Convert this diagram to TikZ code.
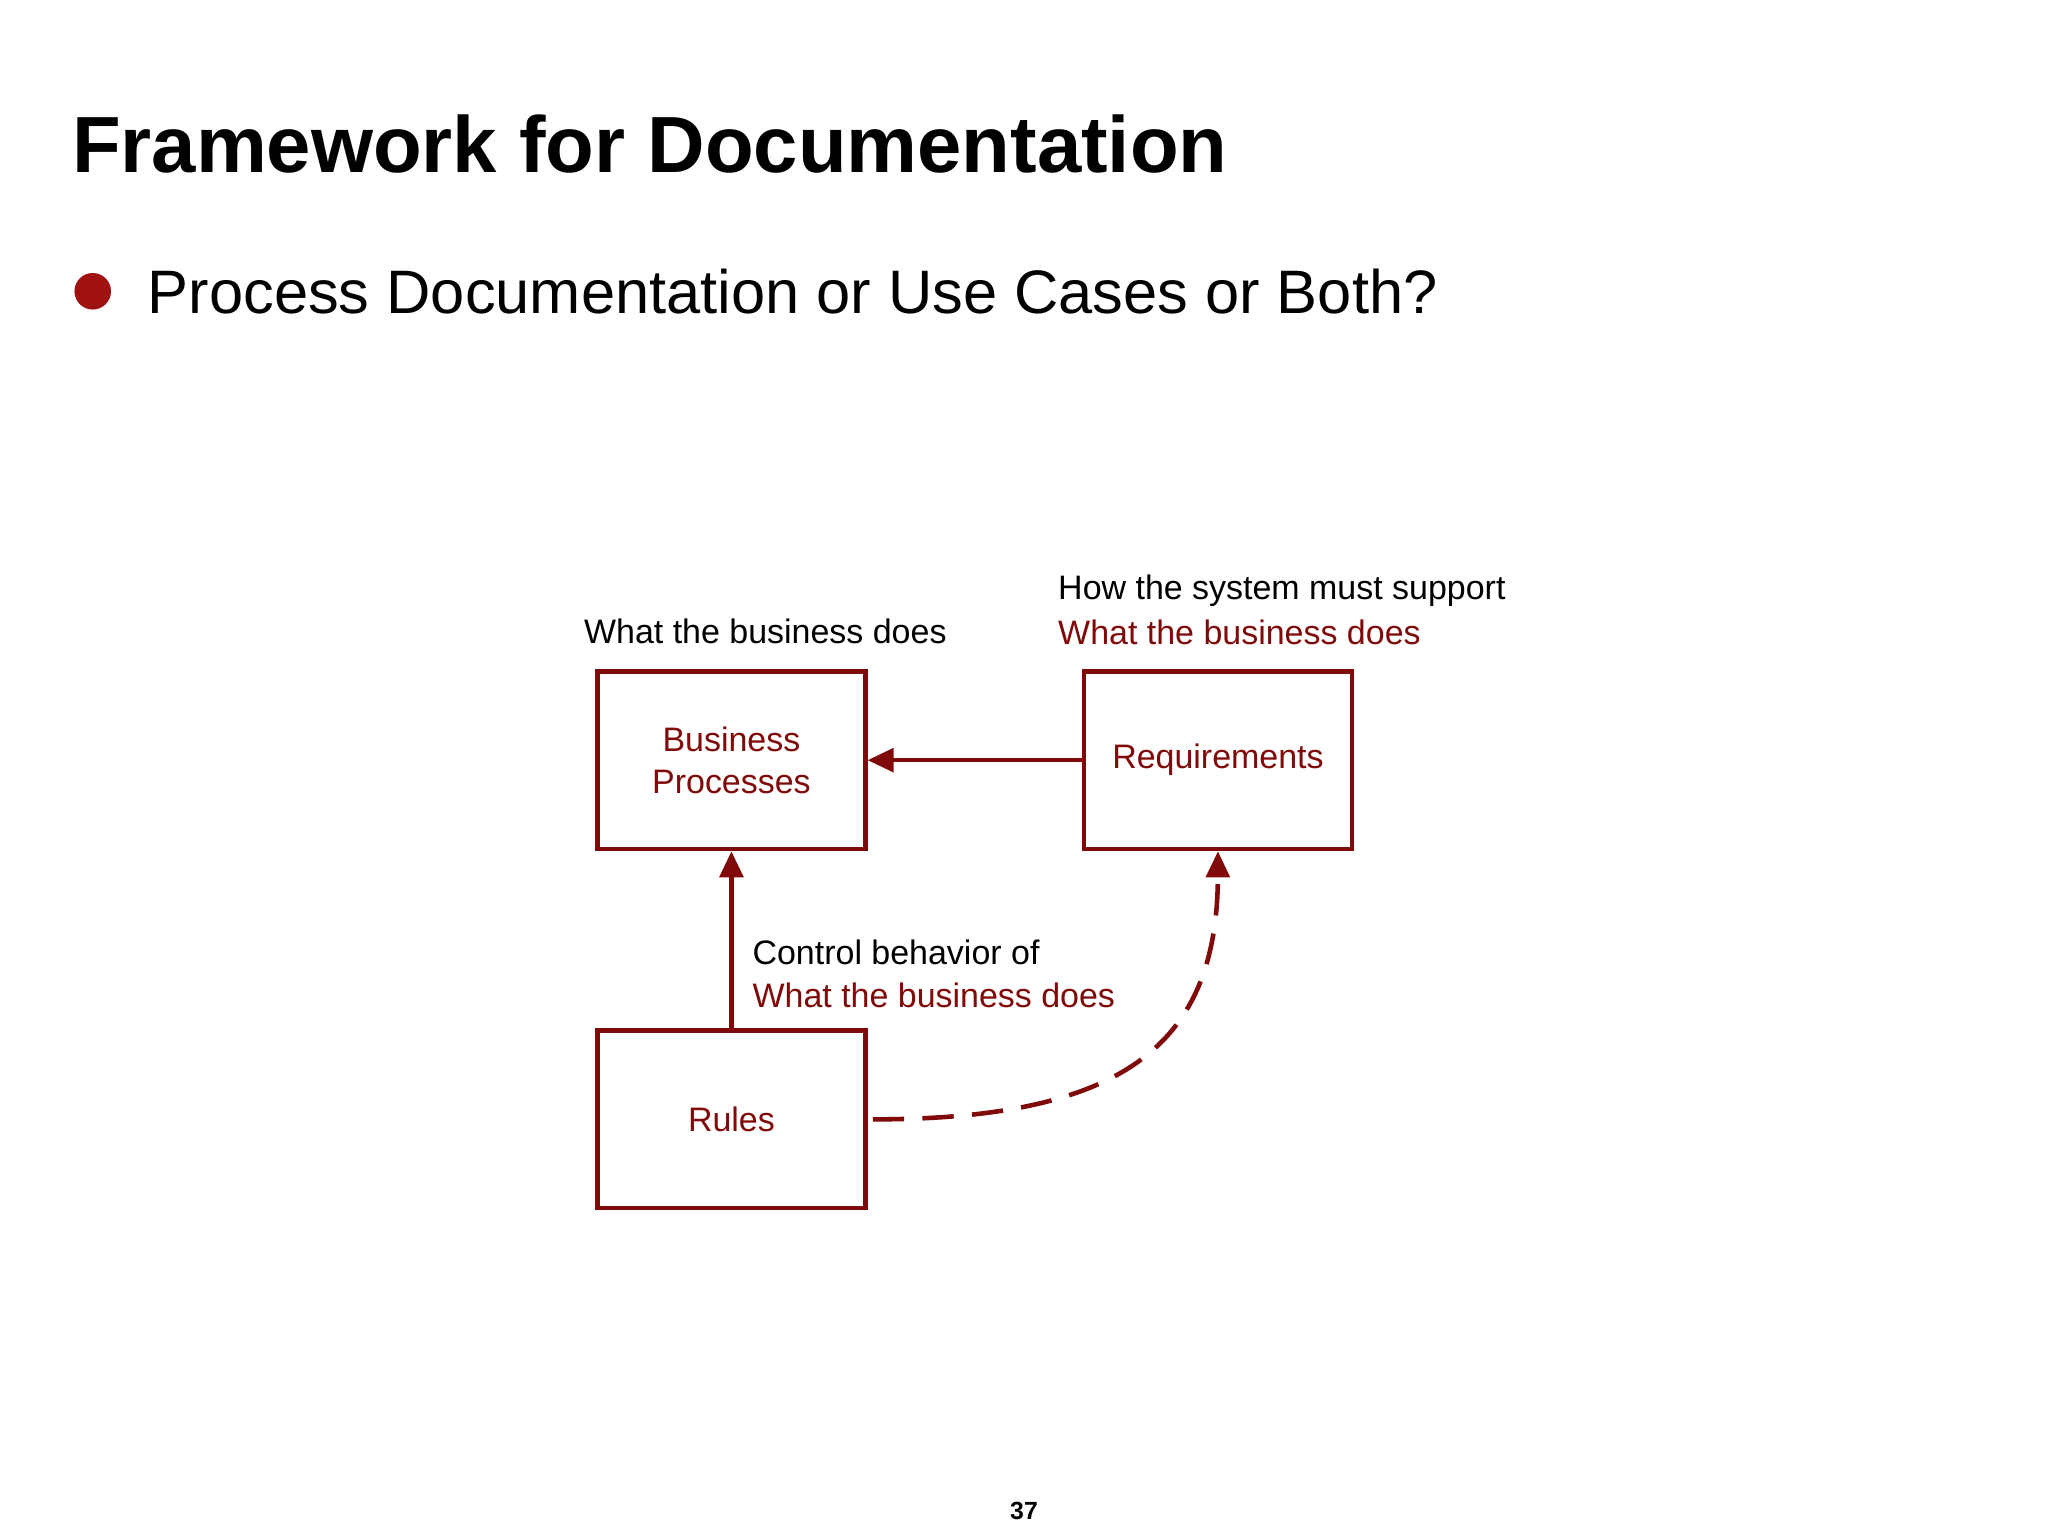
\documentclass[tikz,border=0pt]{standalone}
\usepackage{fontspec}
\setmainfont{Liberation Sans}
\usetikzlibrary{arrows.meta}
\definecolor{dr}{HTML}{800A0A}
\definecolor{br}{HTML}{A01212}
\begin{document}
\begin{tikzpicture}[x=1pt,y=-1pt,
  box/.style={draw=dr,line width=3.5pt,minimum width=205pt,minimum height=136pt,text=dr,font=\fontsize{26}{32}\selectfont,align=center,inner sep=0pt},
  lbl/.style={anchor=west,font=\fontsize{26}{32}\selectfont,inner sep=0pt},
  con/.style={draw=dr,line width=3.5pt,-{Triangle[length=20pt,width=18pt]}}]
\useasboundingbox[fill=white] (0,0) rectangle (1568,1176);
\node[anchor=west,inner sep=0pt,font=\bfseries\fontsize{61}{70}\selectfont] (title) at (55,110) {Framework for Documentation};
\fill[br] (71,223) circle (14) coordinate (bul);
\node[anchor=west,inner sep=0pt,font=\fontsize{47}{54}\selectfont] (sub) at (113,223) {Process Documentation or Use Cases or Both?};
\node[box] (bp) at (560,582) {Business\\Processes};
\node[box] (req) at (932.5,582) {Requirements};
\node[box] (rules) at (560,857) {Rules};
\draw[con] (req.west) -- (bp.east);
\draw[con] (rules.north) -- (bp.south);
\draw[con,dash pattern=on 24pt off 14pt] ([xshift=4pt]rules.east) .. controls (860,857) and (932,800) .. (req.south);
\node[lbl] (l1) at (447,483) {What the business does};
\node[lbl] (l2) at (810,452) {How the system must support};
\node[lbl,text=dr] (l3) at (810,484) {What the business does};
\node[lbl] (l4) at (576,729) {Control behavior of};
\node[lbl,text=dr] (l5) at (576,762) {What the business does};
\node[font=\bfseries\fontsize{19}{22}\selectfont,inner sep=0pt] (pg) at (784,1157) {37};
\end{tikzpicture}
\end{document}
